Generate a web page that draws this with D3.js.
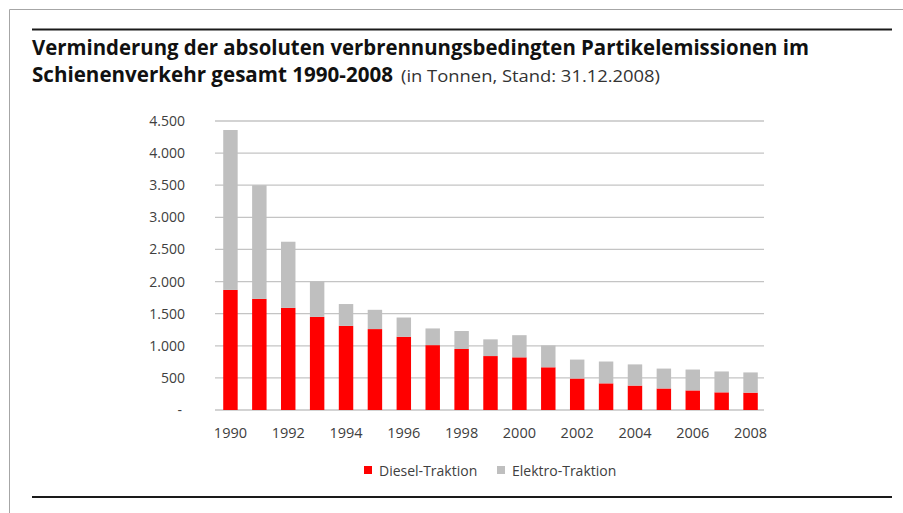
<!DOCTYPE html>
<html>
<head>
<meta charset="utf-8">
<script src="https://cdn.jsdelivr.net/npm/d3@7"></script>
<style>
    body { margin: 0; background: #fff; }
    svg { display: block; }
</style>
</head>
<body>
<div id="chart"></div>
<script>

// Partikelemissionen in Tonnen
let years = [1990, 1991, 1992, 1993, 1994, 1995, 1996, 1997, 1998, 1999,
             2000, 2001, 2002, 2003, 2004, 2005, 2006, 2007, 2008];
let diesel = [1870, 1730, 1590, 1450, 1310, 1260, 1140, 1010, 950, 840,
              820, 665, 490, 415, 380, 335, 305, 275, 270];
let elektro = [2490, 1770, 1030, 550, 340, 300, 300, 260, 280, 260,
               345, 340, 295, 340, 330, 310, 325, 325, 315];
let seriesNames = ["Diesel-Traktion", "Elektro-Traktion"];
let seriesColors = ["#ff0000", "#bfbfbf"];
let yTicks = [0, 500, 1000, 1500, 2000, 2500, 3000, 3500, 4000, 4500];
let xTickYears = [1990, 1992, 1994, 1996, 1998, 2000, 2002, 2004, 2006, 2008];

class stackedBars {

    constructor(opts) {
        this.element = opts.element;
        this.update();
    }

    _setDimensions() {
        this.width = 903;
        this.height = 513;

        this.plot = {
            left: 216,
            right: 765,
            top: 121,
            bottom: 410
        };
    }

    update() {
        this._setDimensions();
        this._setScales();
        this.draw();
    }

    _setScales() {

        this.de = d3.formatLocale({decimal: ",", thousands: ".", grouping: [3], currency: ["", " €"]});
        this.formatNumber = this.de.format(",.0f");

        this.xScale = d3.scaleBand()
            .domain(years)
            .range([this.plot.left, this.plot.right])
            .paddingInner(0.5)
            .paddingOuter(0.25);

        this.yScale = d3.scaleLinear()
            .domain([0, 4500])
            .range([this.plot.bottom, this.plot.top]);

        this.color = d3.scaleOrdinal()
            .domain(seriesNames)
            .range(seriesColors);

        this.rows = years.map((y, i) => {
            return {year: y, "Diesel-Traktion": diesel[i], "Elektro-Traktion": elektro[i]};
        });

        this.stacked = d3.stack().keys(seriesNames)(this.rows);
    }

    draw() {

        this.element.innerHTML = "";

        this.svg = d3.select(this.element).append("svg")
            .attr("width", this.width)
            .attr("height", this.height);

        // Rahmen oben und links
        this.svg.append("path")
            .attr("d", "M9.5," + this.height + "V9.5H" + this.width)
            .attr("fill", "none")
            .attr("stroke", "#a6a6a6")
            .attr("stroke-width", 1);

        this.svg.append("line")
            .attr("x1", 32).attr("x2", 892)
            .attr("y1", 29.5).attr("y2", 29.5)
            .attr("stroke", "#1a1a1a")
            .attr("stroke-width", 2);

        this.svg.append("line")
            .attr("x1", 32).attr("x2", 892)
            .attr("y1", 497).attr("y2", 497)
            .attr("stroke", "#1a1a1a")
            .attr("stroke-width", 2);

        // Titel
        let title = this.svg.append("g")
            .attr("font-family", "'Open Sans', sans-serif")
            .attr("fill", "#111");

        title.append("text")
            .attr("x", 32).attr("y", 55)
            .attr("font-size", 21)
            .attr("font-weight", "bold")
            .attr("textLength", 777)
            .attr("lengthAdjust", "spacingAndGlyphs")
            .text("Verminderung der absoluten verbrennungsbedingten Partikelemissionen im");

        title.append("text")
            .attr("x", 32).attr("y", 82)
            .attr("font-size", 21)
            .attr("font-weight", "bold")
            .attr("textLength", 361)
            .attr("lengthAdjust", "spacingAndGlyphs")
            .text("Schienenverkehr gesamt 1990-2008");

        title.append("text")
            .attr("x", 401).attr("y", 82)
            .attr("font-size", 16)
            .attr("fill", "#333")
            .attr("textLength", 259)
            .attr("lengthAdjust", "spacingAndGlyphs")
            .text("(in Tonnen, Stand: 31.12.2008)");

        // Gitterlinien
        this.svg.append("g")
            .selectAll("line")
            .data(yTicks)
            .enter().append("line")
            .attr("x1", this.plot.left - 1)
            .attr("x2", this.plot.right - 1)
            .attr("y1", d => this.yScale(d))
            .attr("y2", d => this.yScale(d))
            .attr("stroke", "#c4c4c4")
            .attr("stroke-width", 1.3);

        // y-Achse
        this.yAxis = d3.axisLeft(this.yScale)
            .tickValues(yTicks)
            .tickSize(0)
            .tickPadding(0)
            .tickFormat(d => d === 0 ? "-" : this.formatNumber(d));

        let yg = this.svg.append("g")
            .attr("transform", "translate(185,0)")
            .call(this.yAxis);
        yg.select(".domain").remove();
        yg.selectAll("text")
            .attr("font-family", "'Open Sans', sans-serif")
            .attr("font-size", 14)
            .attr("fill", "#404040")
            .attr("dx", d => d === 0 ? -3 : 0);

        // Balken
        this.svg.append("g")
            .selectAll("g")
            .data(this.stacked)
            .enter().append("g")
            .attr("fill", d => this.color(d.key))
            .selectAll("rect")
            .data(d => d)
            .enter().append("rect")
            .attr("x", d => this.xScale(d.data.year))
            .attr("width", this.xScale.bandwidth())
            .attr("y", d => this.yScale(d[1]))
            .attr("height", d => this.yScale(d[0]) - this.yScale(d[1]));

        // x-Achse
        this.xAxis = d3.axisBottom(this.xScale)
            .tickValues(xTickYears)
            .tickSize(0)
            .tickPadding(0);

        let xg = this.svg.append("g")
            .attr("transform", "translate(0,428)")
            .call(this.xAxis);
        xg.select(".domain").remove();
        xg.selectAll("text")
            .attr("font-family", "'Open Sans', sans-serif")
            .attr("font-size", 14.5)
            .attr("fill", "#404040");

        // Legende
        let legendX = [364, 497];
        let legend = this.svg.append("g")
            .selectAll("g")
            .data(seriesNames)
            .enter().append("g")
            .attr("transform", (d, i) => "translate(" + legendX[i] + ",466)");

        legend.append("rect")
            .attr("width", 8)
            .attr("height", 8)
            .attr("fill", d => this.color(d));

        legend.append("text")
            .attr("x", 15)
            .attr("y", 9.5)
            .attr("font-family", "'Open Sans', sans-serif")
            .attr("font-size", 14)
            .attr("fill", "#404040")
            .text(d => d);
    }

}

new stackedBars({element: document.getElementById("chart")});

</script>
</body>
</html>
